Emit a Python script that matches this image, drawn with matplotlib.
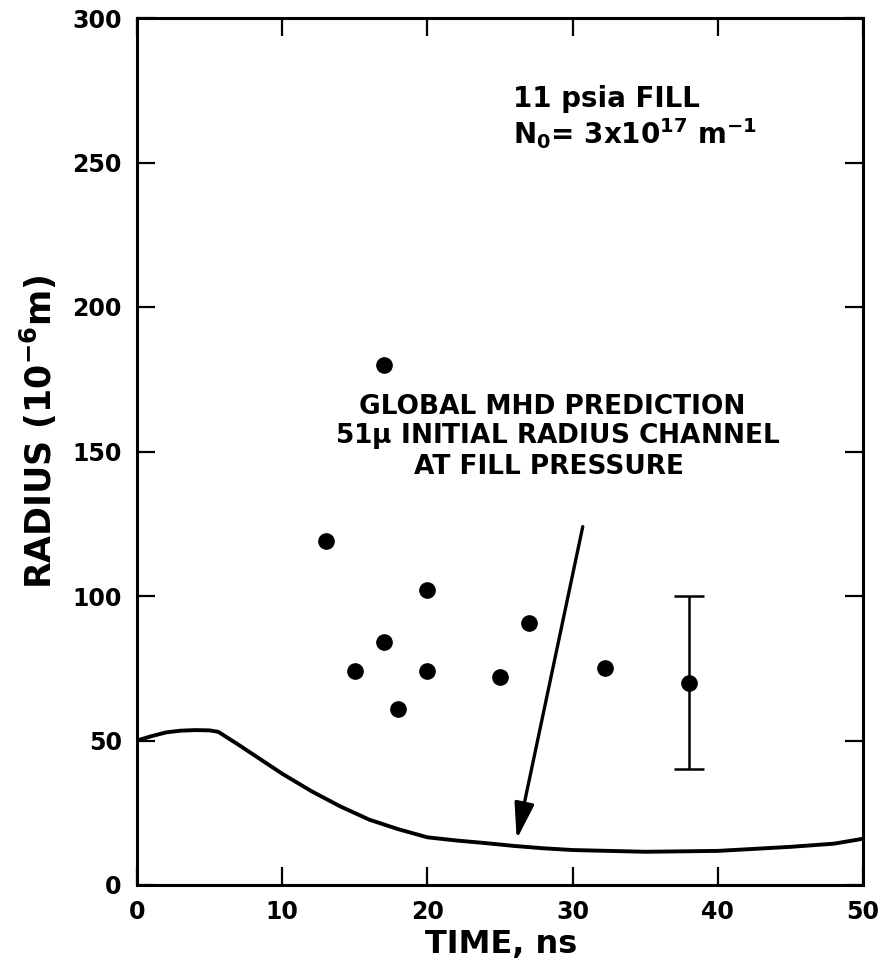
import matplotlib
matplotlib.use("Agg")
import matplotlib.pyplot as plt

plt.rcParams["font.family"] = ["DejaVu Sans"]
plt.rcParams["font.weight"] = "bold"
plt.rcParams["mathtext.fontset"] = "dejavusans"
plt.rcParams["mathtext.default"] = "bf"

# Global MHD prediction for a 51 micron initial channel
model_time = [0, 1, 2, 3, 4, 5, 5.6, 7, 8.5, 10, 12, 14, 16, 18, 20,
              22, 24, 26, 28, 30, 35, 40, 45, 48, 50]
model_radius = [50, 51.5, 52.8, 53.4, 53.6, 53.5, 53, 48.5, 43.5, 38.5, 32.5,
                27.2, 22.6, 19.3, 16.5, 15.4, 14.5, 13.5, 12.7, 12.1, 11.5,
                11.8, 13.2, 14.3, 16]

# Measured channel radii
meas_time = [17, 13, 20, 17, 15, 20, 18, 27, 25, 32.2]
meas_radius = [180, 119, 102, 84, 74, 74, 61, 90.5, 72, 75]

# Point with error bar
err_time = [38]
err_radius = [70]
err_size = [30]

x_ticks = [0, 10, 20, 30, 40, 50]
y_ticks = [0, 50, 100, 150, 200, 250, 300]

fig = plt.figure(figsize=(8.79, 9.69), dpi=100)
ax = fig.add_axes([137 / 879, 1 - 885 / 969, (863 - 137) / 879, (885 - 18) / 969])

ax.plot(model_time, model_radius, color="black", lw=2.8, solid_capstyle="butt")
ax.plot(meas_time, meas_radius, "o", color="black", markersize=11, linestyle="none")
ax.errorbar(err_time, err_radius, yerr=err_size, fmt="o", color="black",
            markersize=11, elinewidth=1.8, capsize=11, capthick=1.8)

ax.set_xlim(0, 50)
ax.set_ylim(0, 300)
ax.set_xticks(x_ticks)
ax.set_yticks(y_ticks)
ax.tick_params(axis="both", which="major", direction="in", length=13, width=1.6,
               top=True, right=True, labelsize=17)
ax.tick_params(axis="x", pad=11)
ax.tick_params(axis="y", pad=11)
for lbl in ax.get_xticklabels() + ax.get_yticklabels():
    lbl.set_fontweight("bold")
for sp in ax.spines.values():
    sp.set_linewidth(2.2)

fig.text(501 / 879, 1 - 944 / 969, "TIME, ns", ha="center", va="center",
         fontsize=23, fontweight="bold")
fig.text(38 / 879, 1 - 432 / 969, r"RADIUS (10$^{-6}$m)", ha="center", va="center",
         rotation=90, fontsize=25, fontweight="bold")

ax.text(25.9, 269.2, "11 psia FILL", fontsize=20, fontweight="bold",
        ha="left", va="baseline")
ax.text(25.9, 256.4, r"N$_0$= 3x10$^{17}$ m$^{-1}$", fontsize=20, fontweight="bold",
        ha="left", va="baseline")

ax.text(28.6, 165.5, "GLOBAL MHD PREDICTION", fontsize=19, fontweight="bold",
        ha="center", va="center")
ax.text(29.0, 155.5, r"51$\mu$ INITIAL RADIUS CHANNEL", fontsize=19, fontweight="bold",
        ha="center", va="center")
ax.text(28.4, 144.5, "AT FILL PRESSURE", fontsize=19, fontweight="bold",
        ha="center", va="center")

ax.annotate("", xy=(26.15, 15.8), xytext=(30.7, 124),
            arrowprops=dict(arrowstyle="-|>,head_length=1.1,head_width=0.3",
                            color="black", lw=2.4, mutation_scale=20,
                            shrinkA=0, shrinkB=0))

fig.savefig("out.png", dpi=100)
